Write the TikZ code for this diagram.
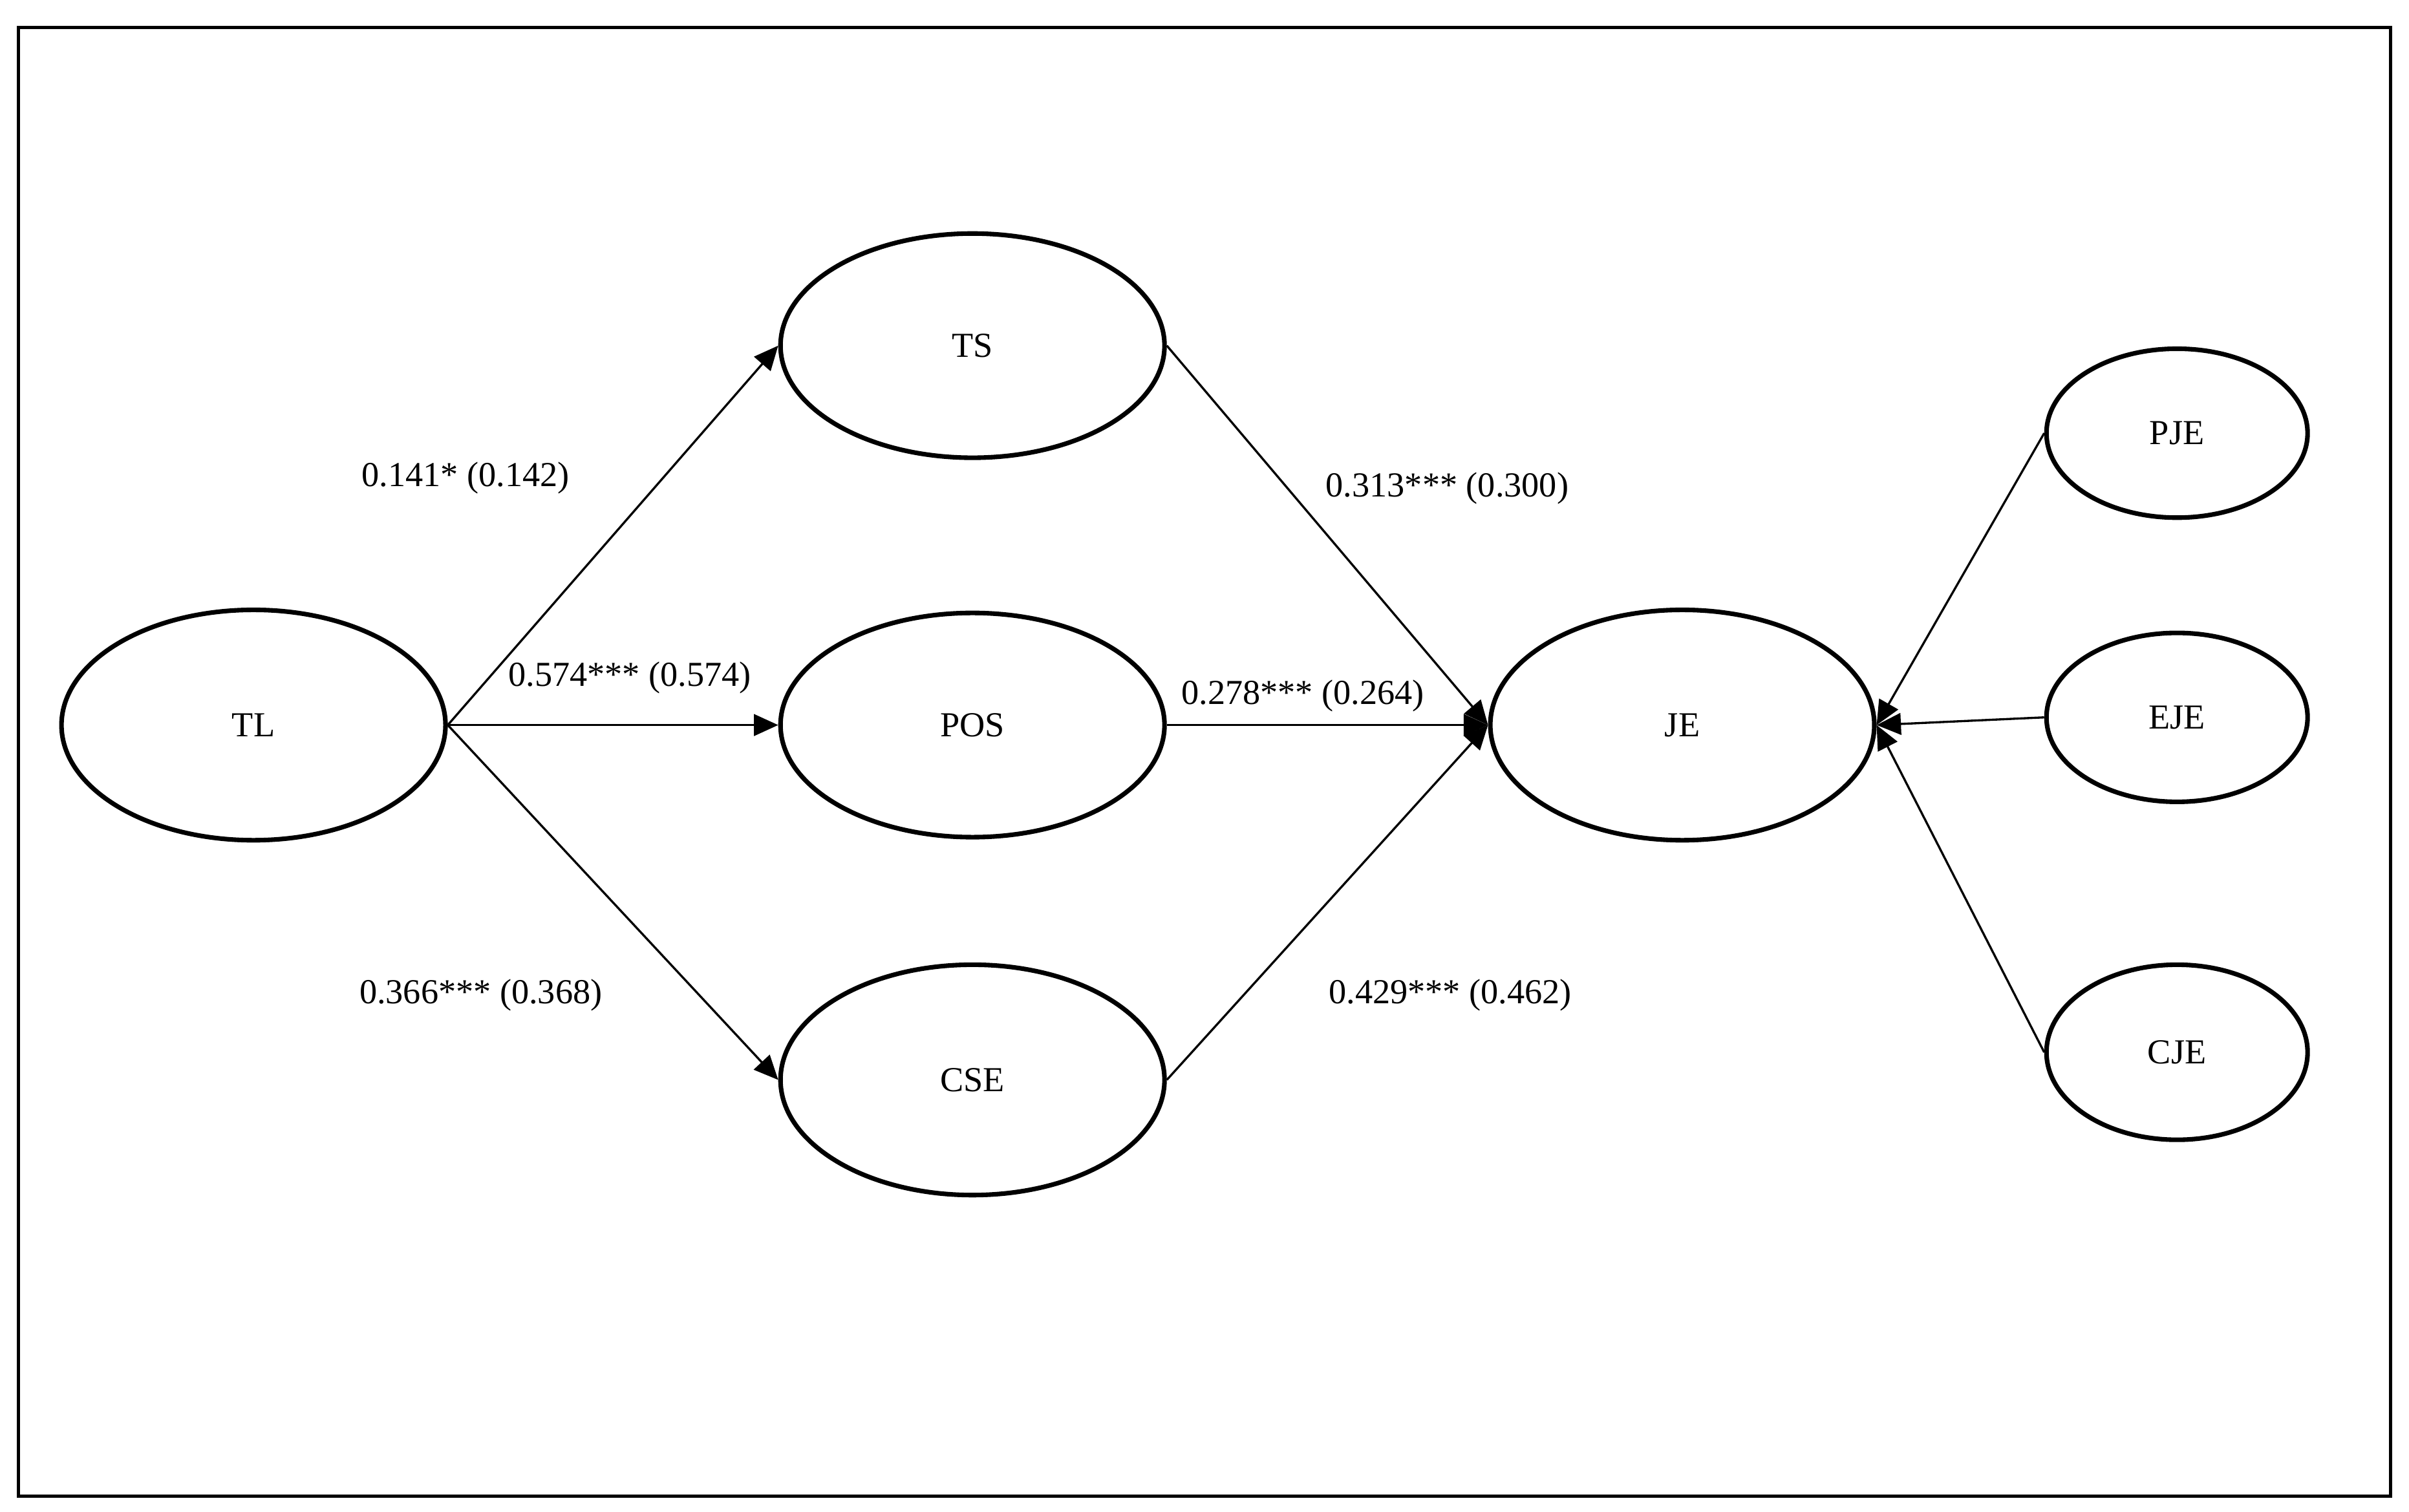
\documentclass[tikz,border=0pt]{standalone}
\usepackage{fontspec}
\setmainfont{Liberation Serif}
\usetikzlibrary{shapes.geometric,arrows.meta}
\begin{document}
\begin{tikzpicture}[x=0.02cm,y=-0.02cm,
  big/.style={ellipse,draw,line width=1.7pt,minimum width=5cm,minimum height=3cm,inner sep=0pt,font=\fontsize{13}{15}\selectfont},
  small/.style={ellipse,draw,line width=1.7pt,minimum width=3.4cm,minimum height=2.2cm,inner sep=0pt,font=\fontsize{13}{15}\selectfont},
  arr/.style={line width=0.8pt,-{Triangle[length=9pt,width=8pt]}},
  lab/.style={font=\fontsize{13}{15}\selectfont,inner sep=0pt}]
\useasboundingbox (0,0) rectangle (1568,984);
\draw[line width=1.1pt] (12,18) rectangle (1556,974);
\node[big] (TL) at (165,472) {TL};
\node[big,minimum height=2.92cm] (TS) at (633,225) {TS};
\node[big,minimum height=2.92cm] (POS) at (633,472) {POS};
\node[big] (CSE) at (633,703) {CSE};
\node[big] (JE) at (1095,472) {JE};
\node[small] (PJE) at (1417,282) {PJE};
\node[small] (EJE) at (1417,467) {EJE};
\node[small,minimum height=2.28cm] (CJE) at (1417,685) {CJE};
\draw[arr] (TL.east) -- (TS.west);
\draw[arr] (TL.east) -- (POS.west);
\draw[arr] (TL.east) -- (CSE.west);
\draw[arr] (TS.east) -- (JE.west);
\draw[arr] (POS.east) -- (JE.west);
\draw[arr] (CSE.east) -- (JE.west);
\draw[arr] (PJE.west) -- (JE.east);
\draw[arr] (EJE.west) -- (JE.east);
\draw[arr] (CJE.west) -- (JE.east);
\node[lab] (l1) at (303,311) {0.141* (0.142)};
\node[lab] (l2) at (410,441) {0.574*** (0.574)};
\node[lab] (l3) at (313,648) {0.366*** (0.368)};
\node[lab] (l4) at (942,318) {0.313*** (0.300)};
\node[lab] (l5) at (848,453) {0.278*** (0.264)};
\node[lab] (l6) at (944,648) {0.429*** (0.462)};
\end{tikzpicture}
\end{document}
